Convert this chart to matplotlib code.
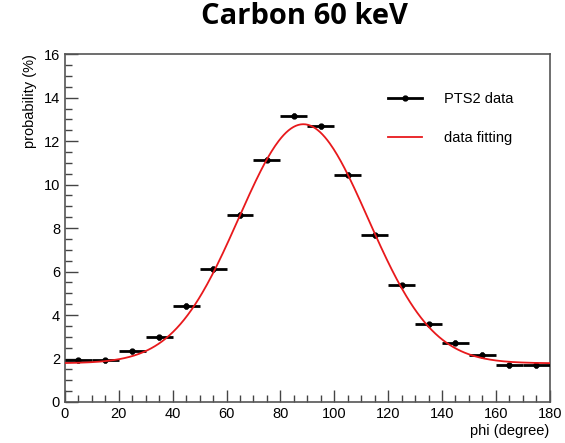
import numpy as np
import matplotlib
matplotlib.use("Agg")
import matplotlib.pyplot as plt
from matplotlib.ticker import MultipleLocator
from matplotlib.lines import Line2D

# data
phi = [5, 15, 25, 35, 45, 55, 65, 75, 85, 95, 105, 115, 125, 135, 145, 155, 165, 175]
prob = [1.91, 1.91, 2.34, 2.98, 4.42, 6.12, 8.6, 11.14, 13.17, 12.68, 10.45, 7.66,
        5.36, 3.57, 2.73, 2.17, 1.68, 1.68]
phi_err = [5] * len(phi)
prob_err = [0.12] * len(phi)

# gaussian + constant fit parameters
fit_const = 1.78
fit_amp = 11.0
fit_mean = 88.5
fit_sigma = 24.0

plt.rcParams['font.family'] = ['Liberation Sans', 'DejaVu Sans']

fig = plt.figure(figsize=(5.65, 4.43), dpi=100)
ax = fig.add_axes([0.115, 0.0926, 0.858, 0.785])

ax.errorbar(phi, prob, xerr=phi_err, yerr=prob_err, fmt='o', color='black',
            markersize=3.5, elinewidth=2, capsize=0, zorder=3)

xs = np.linspace(0, 180, 400)
ys = fit_const + fit_amp * np.exp(-(xs - fit_mean) ** 2 / (2 * fit_sigma ** 2))
ax.plot(xs, ys, color='#e8191c', lw=1.3, zorder=4)

ax.set_xlim(0, 180)
ax.set_ylim(0, 16)
ax.xaxis.set_major_locator(MultipleLocator(20))
ax.xaxis.set_minor_locator(MultipleLocator(5))
ax.yaxis.set_major_locator(MultipleLocator(2))
ax.yaxis.set_minor_locator(MultipleLocator(0.5))
ax.tick_params(which='both', direction='in', colors='#444444', labelcolor='black',
               labelsize=10.5, top=False, right=False)
ax.tick_params(which='major', length=9, width=1)
ax.tick_params(which='minor', length=5, width=1)
for s in ax.spines.values():
    s.set_color('#555555')
    s.set_linewidth(1.2)

ax.set_xlabel('phi (degree)', fontsize=10.5, loc='right', labelpad=2)
ax.set_ylabel('probability (%)', fontsize=10.5, loc='top', labelpad=5)

handles = [Line2D([], [], color='black', lw=2, marker='o', markersize=3.5),
           Line2D([], [], color='#e8191c', lw=1.3)]
ax.legend(handles, ['PTS2 data', 'data fitting'], loc='upper left',
          bbox_to_anchor=(0.64, 0.93), frameon=False, fontsize=10.5,
          handlelength=2.3, handletextpad=1.5, labelspacing=1.75)

fig.text(0.538, 0.962, 'Carbon 60 keV', ha='center', va='center', fontsize=21,
         fontweight='bold', family=['Open Sans', 'DejaVu Sans'])

fig.savefig('out.png', dpi=100)
